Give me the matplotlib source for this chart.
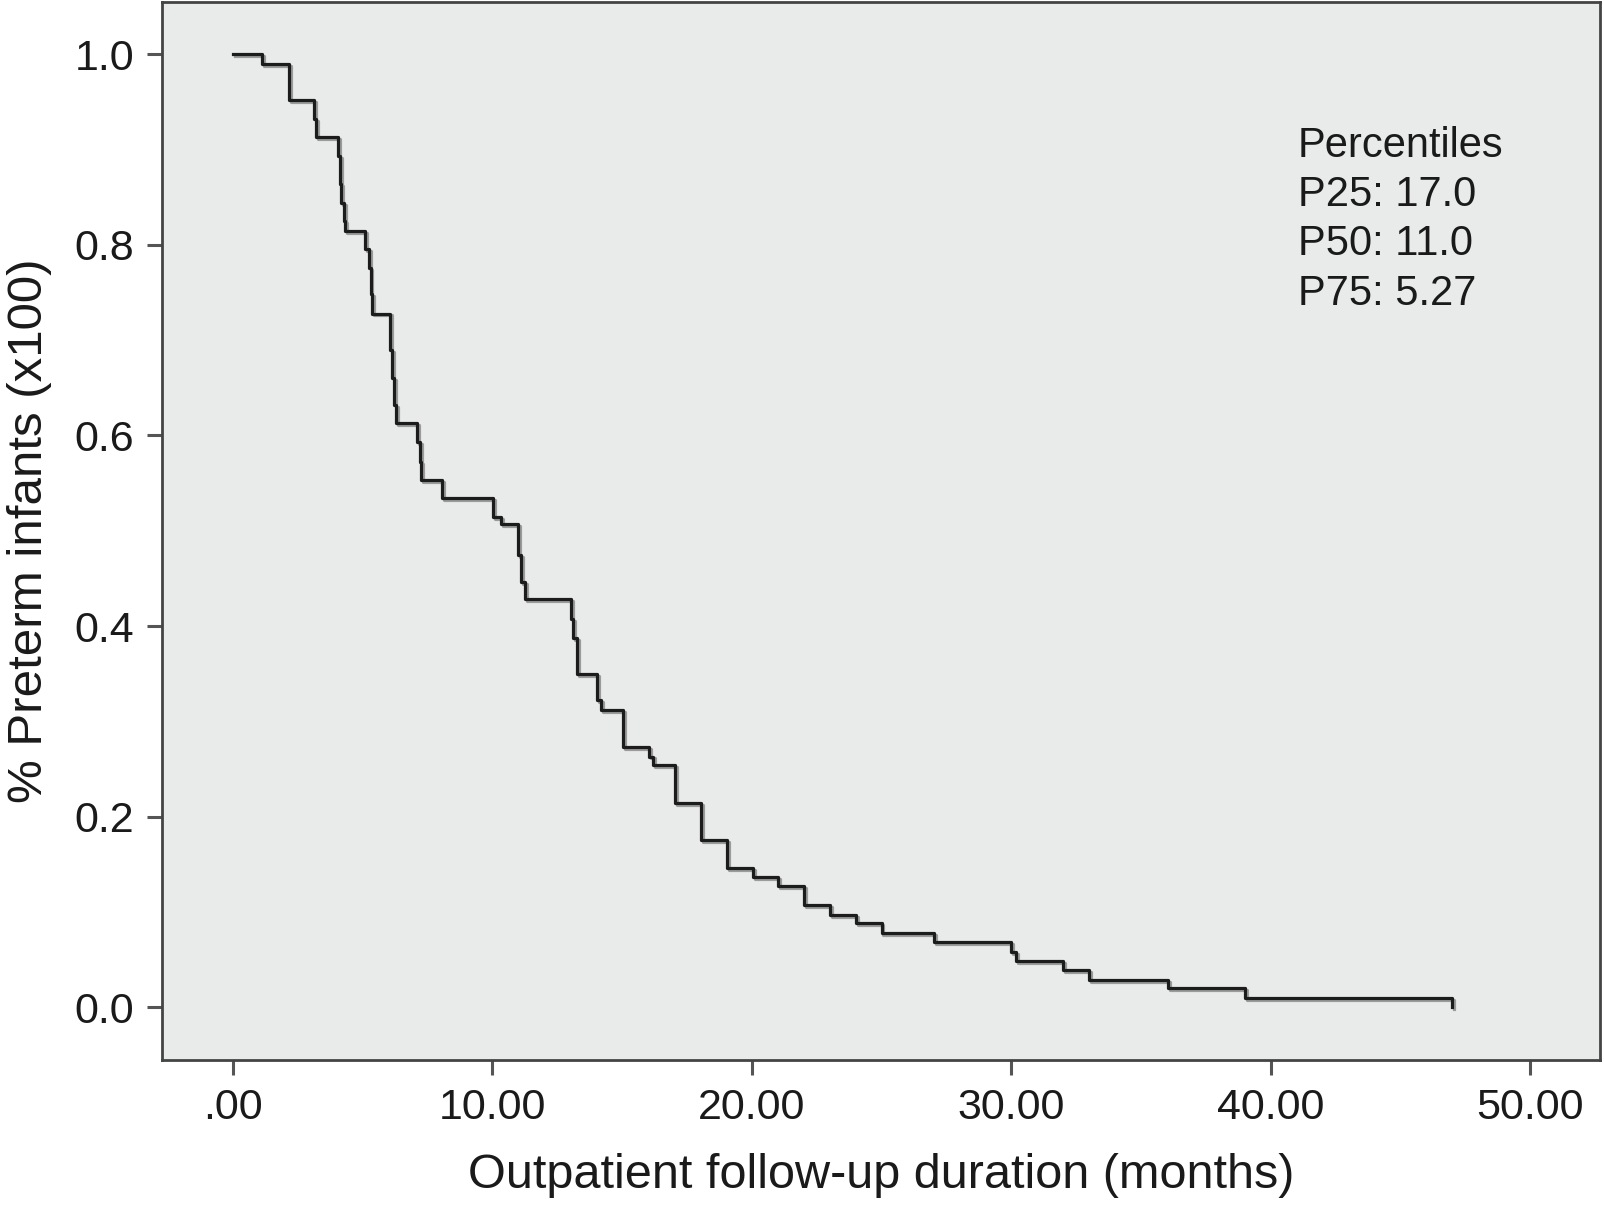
import matplotlib

matplotlib.use("Agg")
import matplotlib.pyplot as plt
import matplotlib.patheffects as pe

plt.rcParams["font.family"] = ["Liberation Sans", "DejaVu Sans"]

# Kaplan-Meier style step data (month of drop, proportion remaining after it)
months = [0.0, 1.12, 2.16, 3.12, 3.20, 4.06, 4.12, 4.18, 4.26, 4.32,
          5.09, 5.24, 5.30, 5.36, 6.05, 6.12, 6.20, 6.30, 7.08, 7.22,
          7.24, 8.05, 10.01, 10.32, 11.00, 11.10, 11.26, 13.03, 13.12, 13.27,
          14.02, 14.17, 15.05, 16.05, 16.20, 17.04, 18.03, 19.03, 20.06, 21.00,
          22.00, 23.00, 24.00, 25.00, 27.04, 30.00, 30.20, 32.00, 33.00, 36.03,
          39.00, 47.00]
surv = [1.000, 0.990, 0.952, 0.932, 0.913, 0.893, 0.864, 0.844, 0.825, 0.815,
        0.796, 0.776, 0.748, 0.728, 0.690, 0.660, 0.632, 0.613, 0.593, 0.572,
        0.553, 0.534, 0.514, 0.507, 0.475, 0.446, 0.428, 0.407, 0.387, 0.350,
        0.322, 0.312, 0.273, 0.263, 0.254, 0.214, 0.175, 0.146, 0.137, 0.127,
        0.107, 0.0965, 0.0878, 0.0773, 0.068, 0.058, 0.0483, 0.0388, 0.0283, 0.0196,
        0.0098, 0.0]

x_ticks = [0, 10, 20, 30, 40, 50]
x_tick_labels = [".00", "10.00", "20.00", "30.00", "40.00", "50.00"]
y_ticks = [0.0, 0.2, 0.4, 0.6, 0.8, 1.0]
y_tick_labels = ["0.0", "0.2", "0.4", "0.6", "0.8", "1.0"]

pct_names = ["P25", "P50", "P75"]
pct_values = ["17.0", "11.0", "5.27"]

fig = plt.figure(figsize=(16.04, 12.05), dpi=100)
ax = fig.add_axes([0.101, 0.1203, 0.8965, 0.8777])
ax.set_facecolor("#e9ebeb")

ax.step(months, surv, where="post", color="#1c1c1c", linewidth=2.3,
        path_effects=[pe.SimpleLineShadow(offset=(1.4, -1.4), shadow_color="#808080", alpha=0.75),
                      pe.Normal()])

ax.set_xlim(-2.74, 52.7)
ax.set_ylim(-0.0556, 1.0546)
ax.set_xticks(x_ticks)
ax.set_xticklabels(x_tick_labels)
ax.set_yticks(y_ticks)
ax.set_yticklabels(y_tick_labels)
ax.tick_params(axis="both", direction="out", length=11, width=2.2, color="#555555",
               labelsize=31, labelcolor="#1a1a1a", pad=9)

for s in ax.spines.values():
    s.set_color("#444444")
    s.set_linewidth(2.0)

ax.set_xlabel("Outpatient follow-up duration (months)", fontsize=35, color="#1a1a1a", labelpad=18)
ax.set_ylabel("% Preterm infants (x100)", fontsize=35.5, color="#1a1a1a", labelpad=16)

txt = "Percentiles\n" + "\n".join(f"{n}: {v}" for n, v in zip(pct_names, pct_values))
ax.text(41.06, 0.925, txt, fontsize=30, color="#1a1a1a", ha="left", va="top",
        linespacing=1.3)

fig.savefig("out.png", dpi=100, facecolor="white")
